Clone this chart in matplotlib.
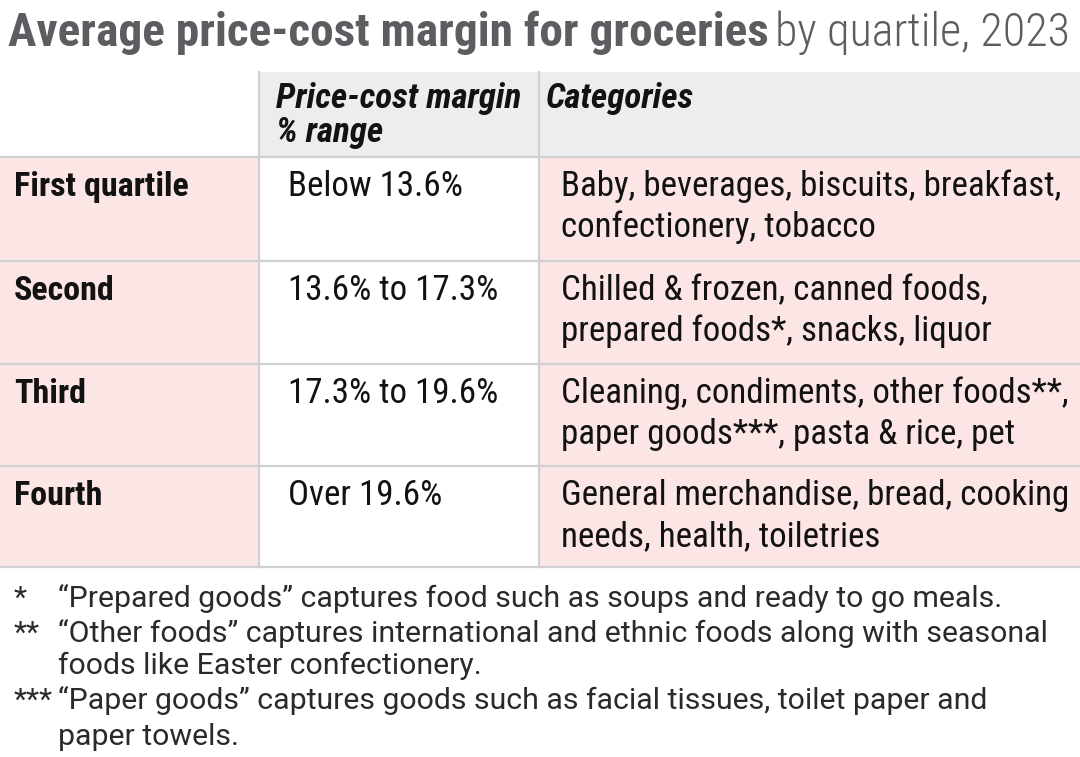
import matplotlib
matplotlib.use("Agg")
import matplotlib.pyplot as plt
from matplotlib.patches import Rectangle
from matplotlib import font_manager

# prefer a condensed Roboto if one is installed, else plain Roboto
COND, STRETCH = "Roboto", "normal"
for f in font_manager.fontManager.ttflist:
    if "Roboto" in f.name and ("Condensed" in f.name or "condensed" in str(f.stretch)):
        COND, STRETCH = f.name, f.stretch
        break
BODY = "Roboto"

title_bold = "Average price-cost margin for groceries"
title_light = "by quartile, 2023"
header = ["Price-cost margin", "% range"]
header_cat = "Categories"
quartiles = ["First quartile", "Second", "Third", "Fourth"]
ranges = ["Below 13.6%", "13.6% to 17.3%", "17.3% to 19.6%", "Over 19.6%"]
categories = [
    ["Baby, beverages, biscuits, breakfast,", "confectionery, tobacco"],
    ["Chilled & frozen, canned foods,", "prepared foods*, snacks, liquor"],
    ["Cleaning, condiments, other foods**,", "paper goods***, pasta & rice, pet"],
    ["General merchandise, bread, cooking", "needs, health, toiletries"],
]
note_marks = ["*", "**", "***"]
notes = [
    ["\u201cPrepared goods\u201d captures food such as soups and ready to go meals."],
    ["\u201cOther foods\u201d captures international and ethnic foods along with seasonal",
     "foods like Easter confectionery."],
    ["\u201cPaper goods\u201d captures goods such as facial tissues, toilet paper and",
     "paper towels."],
]

fig = plt.figure(figsize=(10.8, 7.57), dpi=100)
ax = fig.add_axes([0, 0, 1, 1])
ax.set_xlim(0, 1080)
ax.set_ylim(757, 0)
ax.axis("off")
renderer = fig.canvas.get_renderer()


def fit_size(text, width, **kw):
    # scale font size so the rendered text spans `width` pixels
    t = ax.text(0, 0, text, fontsize=20, **kw)
    w = t.get_window_extent(renderer=renderer).width
    t.remove()
    return 20 * width / w


cond = dict(family=COND, fontstretch=STRETCH)

col_x = [0, 259, 539, 1080]
row_y = [72, 157, 261, 364, 466, 567]
pink = "#fce5e5"
grey = "#ecedee"
line_c = "#d0d0d0"
ink = "#121212"

# backgrounds
for c in (1, 2):
    ax.add_patch(Rectangle((col_x[c], row_y[0]), col_x[c + 1] - col_x[c],
                           row_y[1] - row_y[0], color=grey, lw=0))
for r in range(4):
    for c, colr in zip(range(3), [pink, "white", pink]):
        ax.add_patch(Rectangle((col_x[c], row_y[r + 1]), col_x[c + 1] - col_x[c],
                               row_y[r + 2] - row_y[r + 1], color=colr, lw=0))

for y in row_y[1:]:
    ax.plot([0, 1080], [y, y], color=line_c, lw=1.6)
for x in col_x[1:3]:
    ax.plot([x, x], [row_y[0], row_y[-1]], color=line_c, lw=1.6)

# title
s_tb = fit_size(title_bold, 757, weight="bold", **cond)
s_tl = fit_size(title_light, 295, weight="light", **cond)
ax.text(8, 46, title_bold, fontsize=s_tb, weight="bold",
        color="#5b5d60", va="baseline", **cond)
ax.text(775, 46, title_light, fontsize=s_tl, weight="light",
        color="#5b5d60", va="baseline", **cond)

# header
s_h = fit_size(header[0], 245, weight="bold", style="italic", **cond)
for i, line in enumerate(header):
    ax.text(276, 108 + i * 34, line, fontsize=s_h, weight="bold",
            style="italic", color=ink, va="baseline", **cond)
ax.text(546, 108, header_cat, fontsize=s_h, weight="bold",
        style="italic", color=ink, va="baseline", **cond)

# body
s_lab = fit_size(quartiles[0], 174, weight="bold", **cond)
s_body = fit_size(categories[0][0], 501, **cond)
for r in range(4):
    base = row_y[r + 1] + 39
    ax.text(14, base, quartiles[r], fontsize=s_lab, weight="bold",
            color=ink, va="baseline", **cond)
    ax.text(288, base, ranges[r], fontsize=s_body,
            color=ink, va="baseline", **cond)
    for i, line in enumerate(categories[r]):
        ax.text(561, base + i * 41, line, fontsize=s_body,
                color=ink, va="baseline", **cond)

# footnotes
s_note = fit_size(notes[0][0], 942, family=BODY)
bases = [[607], [642, 674], [709, 745]]
for mark, lines, bs in zip(note_marks, notes, bases):
    ax.text(14, bs[0], mark, fontsize=s_note, family=BODY,
            color="#2a2a2a", va="baseline")
    for line, b in zip(lines, bs):
        ax.text(58, b, line, fontsize=s_note, family=BODY,
                color="#2a2a2a", va="baseline")

fig.savefig("out.png", dpi=100)
